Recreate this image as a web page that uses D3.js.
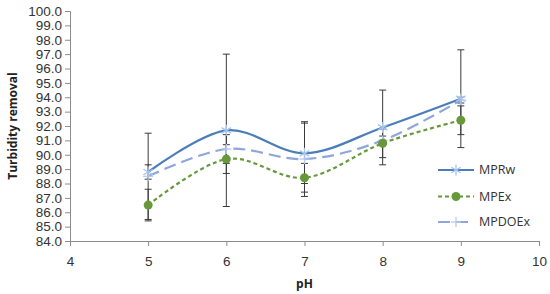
<!DOCTYPE html>
<html>
<head>
<meta charset="utf-8">
<script src="https://cdn.jsdelivr.net/npm/d3@7"></script>
<style>
  body { margin: 0; background: #fff; }
  svg { display: block; font-family: "Open Sans", Lato, sans-serif; }
</style>
</head>
<body>
<svg id="chart" width="550" height="294"></svg>
<script>
// ---------- Data ----------
const ph = [5, 6, 7, 8, 9];
const mprw = [88.8, 91.7, 90.1, 91.9, 93.9];
const mprwErr = [0.5, 5.3, 2.1, 2.6, 3.4];
const mpex = [86.5, 89.7, 88.4, 90.8, 92.4];
const mpexErr = [1.1, 1.0, 1.0, 1.0, 1.0];
const mpdoex = [88.5, 90.4, 89.7, 91.0, 93.8];
const mpdoexErr = [3.0, 1.0, 2.6, 0.3, 0.2];
const xTicks = [4, 5, 6, 7, 8, 9, 10];
const yTicks = d3.range(84, 100.01, 1);

const series = [
  { name: "MPRw", values: mprw, err: mprwErr, color: "#4a7ebb", dash: null, marker: "star", markColor: "#a9c5ea" },
  { name: "MPEx", values: mpex, err: mpexErr, color: "#67993b", dash: "4,3", marker: "circle", markColor: "#67993b" },
  { name: "MPDOEx", values: mpdoex, err: mpdoexErr, color: "#8fa6da", dash: "12,6", marker: "plus", markColor: "#b9c8ea" }
];

// ---------- Scales ----------
const svg = d3.select("#chart");
const x = d3.scaleLinear().domain([4, 10]).range([70, 539]);
const y = d3.scaleLinear().domain([84, 100]).range([241, 11]);
const axisColor = "#8c8c8c";

// ---------- Axes ----------
const gy = svg.append("g")
  .attr("transform", "translate(70,0)")
  .call(d3.axisLeft(y).tickValues(yTicks).tickSize(5).tickPadding(3).tickFormat(d3.format(".1f")));
gy.select(".domain").attr("stroke", axisColor);
gy.selectAll(".tick line").attr("stroke", axisColor);
gy.selectAll("text").attr("font-size", 13.5).attr("fill", "#333");

const gx = svg.append("g")
  .attr("transform", "translate(0,241)")
  .call(d3.axisBottom(x).tickValues(xTicks).tickSize(5).tickPadding(10).tickFormat(d3.format("d")));
gx.select(".domain").attr("stroke", axisColor);
gx.selectAll(".tick line").attr("stroke", axisColor);
gx.selectAll("text").attr("font-size", 13.5).attr("fill", "#333");

svg.append("text")
  .attr("transform", "translate(17,126) rotate(-90)")
  .attr("text-anchor", "middle")
  .attr("font-weight", "bold")
  .attr("font-size", 12)
  .attr("fill", "#222")
  .text("Turbidity removal");

svg.append("text")
  .attr("x", x(7))
  .attr("y", 288)
  .attr("text-anchor", "middle")
  .attr("font-weight", "bold")
  .attr("font-size", 12)
  .attr("fill", "#222")
  .text("pH");

// ---------- Error bars ----------
const eb = svg.append("g").attr("stroke", "#3a3a3a").attr("stroke-width", 1);
series.forEach(s => {
  ph.forEach((p, i) => {
    const lo = Math.max(84, s.values[i] - s.err[i]);
    const hi = s.values[i] + s.err[i];
    eb.append("line").attr("x1", x(p)).attr("x2", x(p)).attr("y1", y(lo)).attr("y2", y(hi));
    eb.append("line").attr("x1", x(p) - 3.5).attr("x2", x(p) + 3.5).attr("y1", y(hi)).attr("y2", y(hi));
    if (lo > 84) eb.append("line").attr("x1", x(p) - 3.5).attr("x2", x(p) + 3.5).attr("y1", y(lo)).attr("y2", y(lo));
  });
});

// ---------- Lines ----------
const line = d3.line()
  .x((d, i) => x(ph[i]))
  .y(d => y(d))
  .curve(d3.curveCatmullRom.alpha(0));

function drawMarker(g, type, cx, cy, color) {
  if (type === "circle") {
    g.append("circle").attr("cx", cx).attr("cy", cy).attr("r", 4.5).attr("fill", color);
  } else if (type === "star") {
    const r = 5.5;
    [0, 60, 120].forEach(a => {
      const rad = a * Math.PI / 180;
      g.append("line")
        .attr("x1", cx - r * Math.sin(rad)).attr("y1", cy - r * Math.cos(rad))
        .attr("x2", cx + r * Math.sin(rad)).attr("y2", cy + r * Math.cos(rad))
        .attr("stroke", color).attr("stroke-width", 1.3);
    });
  } else {
    const r = 5;
    g.append("line").attr("x1", cx - r).attr("x2", cx + r).attr("y1", cy).attr("y2", cy)
      .attr("stroke", color).attr("stroke-width", 1.3);
    g.append("line").attr("x1", cx).attr("x2", cx).attr("y1", cy - r).attr("y2", cy + r)
      .attr("stroke", color).attr("stroke-width", 1.3);
  }
}

const order = [series[2], series[1], series[0]];
order.forEach(s => {
  svg.append("path")
    .datum(s.values)
    .attr("d", line)
    .attr("fill", "none")
    .attr("stroke", s.color)
    .attr("stroke-width", 2.2)
    .attr("stroke-dasharray", s.dash);
  const mg = svg.append("g");
  s.values.forEach((v, i) => drawMarker(mg, s.marker, x(ph[i]), y(v), s.markColor));
});

// ---------- Legend ----------
const legY = [170, 196.5, 222];
series.forEach((s, i) => {
  const g = svg.append("g");
  g.append("line")
    .attr("x1", 438).attr("x2", 474)
    .attr("y1", legY[i]).attr("y2", legY[i])
    .attr("stroke", s.color).attr("stroke-width", 2.2)
    .attr("stroke-dasharray", s.dash);
  drawMarker(g, s.marker, 456, legY[i], s.markColor);
  g.append("text")
    .attr("x", 479).attr("y", legY[i]).attr("dy", "0.35em")
    .attr("font-size", 12.5).attr("fill", "#333")
    .text(s.name);
});
</script>
</body>
</html>
